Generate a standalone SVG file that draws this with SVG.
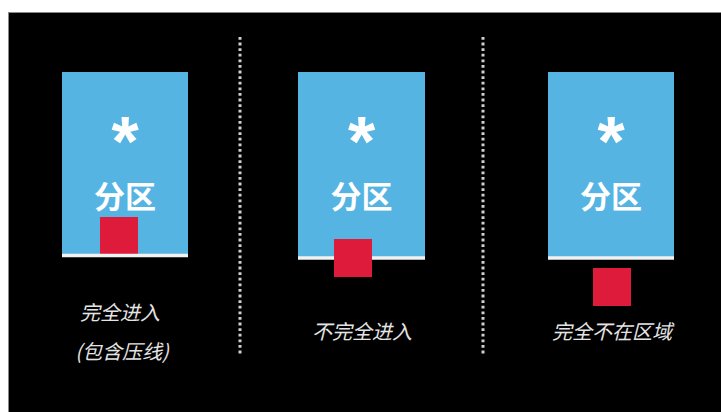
<svg xmlns="http://www.w3.org/2000/svg" width="721" height="412" viewBox="0 0 721 412">
<style>
.zone{fill:#56B4E3}
.edge{stroke:#f2f2f2;stroke-width:3.5}
.obj{fill:#DE1B3B}
.star{font-family:"Liberation Sans",Arial,sans-serif;font-weight:bold;font-size:70px;fill:#fff;text-anchor:middle}
.zt{font-family:"Noto Sans CJK SC","Noto Sans",sans-serif;font-weight:bold;font-size:31px;fill:#fff;text-anchor:middle}
.lbl{font-family:"Noto Sans CJK SC","Noto Sans",sans-serif;font-style:italic;font-size:20px;fill:#e4e4e4;text-anchor:middle}
.sep{stroke:#d0d0d0;stroke-width:3;stroke-dasharray:2.8 2.8}
</style>
<rect x="0" y="0" width="721" height="412" fill="#fff"/>
<rect x="8" y="12" width="713" height="400" fill="#000"/>
<line x1="8" y1="12.5" x2="721" y2="12.5" stroke="#888" stroke-width="1"/>
<line x1="8.5" y1="12" x2="8.5" y2="412" stroke="#888" stroke-width="1"/>
<g id="connectors">
<line class="sep" x1="240" y1="37" x2="240" y2="354"/>
<line class="sep" x1="483" y1="37" x2="483" y2="354"/>
</g>
<g id="case1">
<rect class="zone" x="62" y="72" width="126" height="183"/>
<text class="star" x="125" y="166">*</text>
<text class="zt" x="125" y="208">分区</text>
<rect class="obj" x="100" y="217" width="38" height="37"/>
<line class="edge" x1="62" y1="255.5" x2="188" y2="255.5"/>
<text class="lbl" x="120" y="320">完全进入</text>
<text class="lbl" x="122" y="359">(包含压线)</text>
</g>
<g id="case2">
<rect class="zone" x="298" y="72" width="127" height="186"/>
<text class="star" x="361.5" y="166">*</text>
<text class="zt" x="361.5" y="208">分区</text>
<line class="edge" x1="298" y1="258" x2="425" y2="258"/>
<rect class="obj" x="334" y="239" width="38" height="38"/>
<text class="lbl" x="362" y="339">不完全进入</text>
</g>
<g id="case3">
<rect class="zone" x="548" y="72" width="126" height="186"/>
<text class="star" x="611" y="166">*</text>
<text class="zt" x="611" y="208">分区</text>
<line class="edge" x1="548" y1="258" x2="674" y2="258"/>
<rect class="obj" x="593" y="268" width="38" height="38"/>
<text class="lbl" x="612" y="339">完全不在区域</text>
</g>
</svg>
